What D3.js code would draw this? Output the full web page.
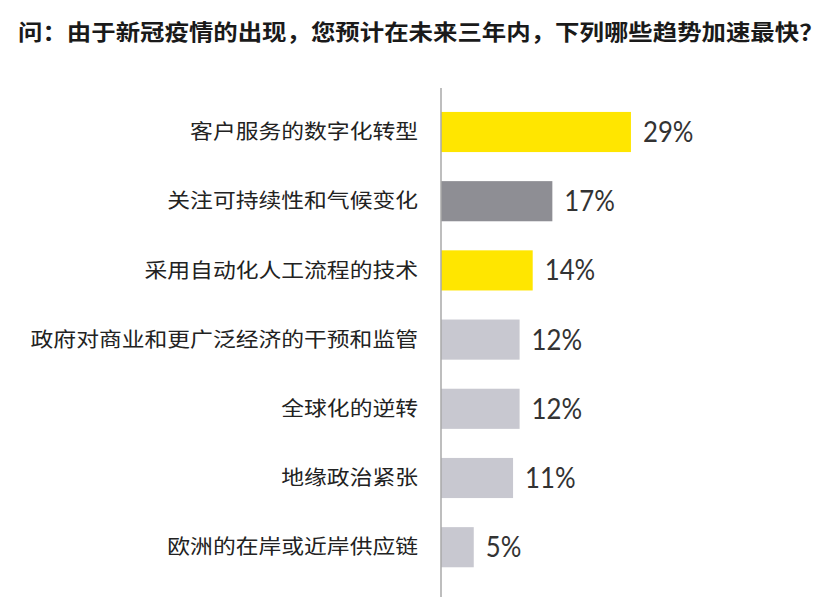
<!DOCTYPE html>
<html lang="zh">
<head>
    <meta charset="UTF-8">
    <title>趋势加速</title>
    <script src="https://d3js.org/d3.v7.min.js"></script>
    <style>
        body {
            margin: 0;
            background: #fff;
        }
        .title {
            font-family: "Noto Sans CJK SC", sans-serif;
            font-weight: bold;
            font-size: 22px;
            fill: #1a1a1a;
        }
        .cat {
            font-family: "Noto Sans CJK SC", sans-serif;
            font-size: 20px;
            fill: #222;
        }
        .val {
            font-family: Lato, "Liberation Sans", Arial, sans-serif;
            font-weight: 400;
            font-size: 28px;
            fill: #333;
        }
    </style>
</head>
<body>
    <svg width="835" height="614"></svg>

    <script>
        const categories = [
            "客户服务的数字化转型",
            "关注可持续性和气候变化",
            "采用自动化人工流程的技术",
            "政府对商业和更广泛经济的干预和监管",
            "全球化的逆转",
            "地缘政治紧张",
            "欧洲的在岸或近岸供应链"
        ];
        const values = [29, 17, 14, 12, 12, 11, 5];
        const barColors = ["#ffe600", "#8e8e94", "#ffe600", "#c8c8d0", "#c8c8d0", "#c8c8d0", "#c8c8d0"];
        const titleText = "问：由于新冠疫情的出现，您预计在未来三年内，下列哪些趋势加速最快？";

        const svg = d3.select("svg");
        const data = categories.map((c, i) => ({name: c, value: values[i], color: barColors[i]}));

        const y = d3.scaleBand()
            .domain(categories)
            .range([97.4, 581.8])
            .paddingInner(0.42)
            .paddingOuter(0.21);

        const x = d3.scaleLinear()
            .domain([0, 30])
            .range([441, 637.5]);

        // title
        svg.append("text")
            .attr("class", "title")
            .attr("transform", "translate(18,40) scale(1.11,1)")
            .text(titleText);

        // bars
        svg.append("g")
            .selectAll("rect")
            .data(data)
            .enter().append("rect")
            .attr("x", x(0))
            .attr("y", d => y(d.name))
            .attr("width", d => x(d.value) - x(0))
            .attr("height", y.bandwidth())
            .attr("fill", d => d.color);

        // vertical axis line
        svg.append("line")
            .attr("x1", x(0)).attr("x2", x(0))
            .attr("y1", 88).attr("y2", 597)
            .attr("stroke", "#a8a8a8")
            .attr("stroke-width", 1.5);

        // category labels
        svg.append("g")
            .selectAll("text")
            .data(data)
            .enter().append("text")
            .attr("class", "cat")
            .attr("text-anchor", "end")
            .attr("dy", "0.36em")
            .attr("transform", d => `translate(418,${y(d.name) + y.bandwidth() / 2}) scale(1.14,1)`)
            .text(d => d.name);

        // value labels
        svg.append("g")
            .selectAll("text")
            .data(data)
            .enter().append("text")
            .attr("class", "val")
            .attr("dy", "0.36em")
            .attr("transform", d => `translate(${x(d.value) + 12},${y(d.name) + y.bandwidth() / 2}) scale(0.92,1)`)
            .text(d => d.value + "%");
    </script>
</body>
</html>
